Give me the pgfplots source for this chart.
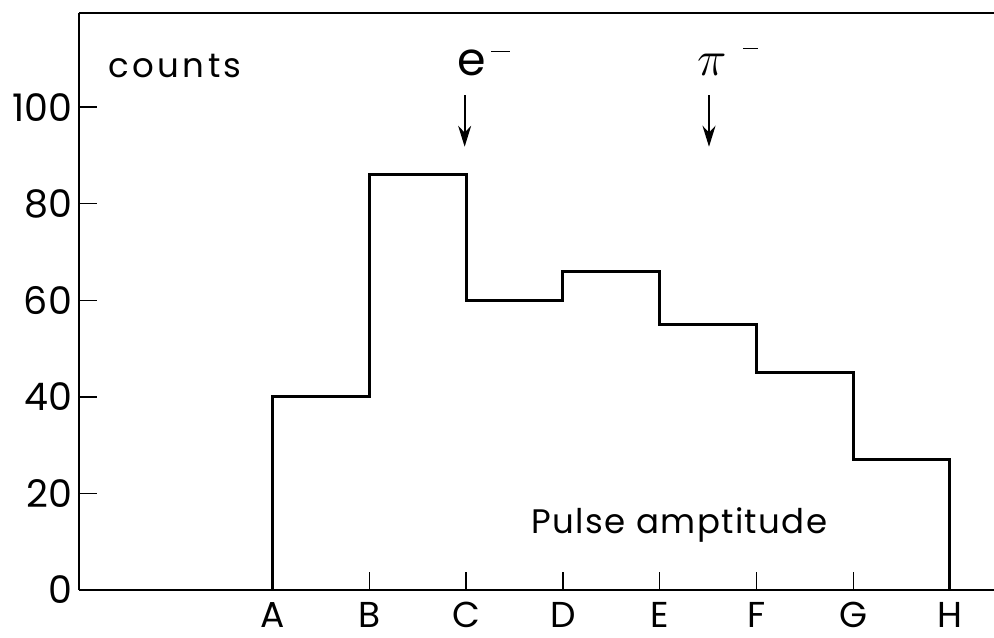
\documentclass[border=0pt]{standalone}
\usepackage{fontspec}
\setmainfont{Poppins}
\newfontfamily\spaced[LetterSpace=10]{Poppins}
\newfontfamily\spacedlight[LetterSpace=4]{Poppins}
\usepackage{pgfplots}
\pgfplotsset{compat=1.18}
\usetikzlibrary{arrows.meta}
\begin{document}
\begin{tikzpicture}
\path[use as bounding box] (-39.5pt,-23.5pt) rectangle (457.5pt,295pt);
\begin{axis}[
  at={(0,0)}, anchor=south west,
  scale only axis, width=457.5pt, height=288.5pt,
  xmin=-2, xmax=7.455, ymin=0, ymax=119.5,
  axis x line=bottom, axis y line=left,
  axis line style={-, line width=1.2pt},
  xtick={0,...,7}, xticklabels={A,B,C,D,E,F,G,H},
  ytick={0,20,...,100},
  tick align=inside, major tick length=9pt,
  tick style={line width=0.7pt, black},
  yticklabel style={font=\fontsize{19}{22}\selectfont},
  xticklabel style={font=\fontsize{18}{21}\selectfont, inner sep=0pt, anchor=north, yshift=-6pt},
  /pgf/number format/assume math mode=true,
  clip=false,
]
% top frame line
\draw[line width=1.2pt] (rel axis cs:0,1) -- (rel axis cs:1,1);
% histogram of counts per pulse-amplitude bin
\addplot[line width=1.5pt, black, mark=none] coordinates {
  (0,0) (0,40) (1,40) (1,86) (2,86) (2,60) (3,60) (3,66)
  (4,66) (4,55) (5,55) (5,45) (6,45) (6,27) (7,27) (7,0)};
\node[anchor=base, font=\spaced\fontsize{17}{20}\selectfont] at (axis cs:-1.007,106.2) {counts};
\node[anchor=base west, font=\fontsize{23}{26}\selectfont, inner sep=0pt] at (axis cs:1.909,106.6) {e\kern2.5pt\raisebox{11.5pt}{\rule{9.5pt}{0.8pt}}};
\node[anchor=base west, font=\fontsize{25}{28}\selectfont, inner sep=0pt] at (axis cs:4.39,106.6) {$\pi$\kern8pt\raisebox{13pt}{\rule{7.5pt}{0.8pt}}};
\draw[-{Stealth[length=10.5pt,width=6.5pt]}, line width=1pt] (axis cs:1.985,102.5) -- (axis cs:1.985,91.8);
\draw[-{Stealth[length=10.5pt,width=6.5pt]}, line width=1pt] (axis cs:4.51,102.5) -- (axis cs:4.51,91.8);
\node[anchor=base, font=\spacedlight\fontsize{17}{20}\selectfont] at (axis cs:4.205,11.8) {Pulse amptitude};
\end{axis}
\end{tikzpicture}
\end{document}
